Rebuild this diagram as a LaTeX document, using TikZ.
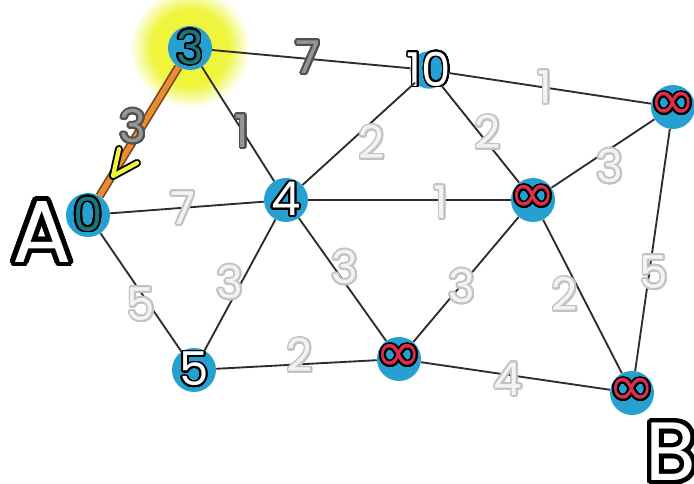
\documentclass[tikz,border=0pt]{standalone}
\usepackage{fontspec}
\usepackage{contour}
\newfontfamily\numfont{Poppins}
\newfontfamily\symfont{DejaVu Sans}
\definecolor{stationblue}{RGB}{38,160,208}
\definecolor{roadgray}{RGB}{45,45,45}
\definecolor{glowyellow}{RGB}{238,245,60}
\definecolor{pathorange}{RGB}{236,140,50}
\definecolor{pathrim}{RGB}{120,70,30}
\definecolor{tealfill}{RGB}{25,120,125}
\definecolor{infred}{RGB}{225,45,75}
\definecolor{darkfill}{RGB}{150,150,150}
\definecolor{darkrim}{RGB}{80,80,80}
\definecolor{lightfill}{RGB}{243,243,243}
\definecolor{lightrim}{RGB}{195,195,195}
\contournumber{32}
\newcommand{\ringtext}[4]{{\contourlength{#1}\contour{#2}{\textcolor{#3}{#4}}}}
\pgfdeclareradialshading{glow}{\pgfpoint{0bp}{0bp}}{color(0bp)=(glowyellow); color(16bp)=(glowyellow); color(25bp)=(white); color(50bp)=(white)}
\begin{document}
\begin{tikzpicture}[x=0.75pt, y=-0.75pt,
    station/.style={circle, fill=stationblue, minimum size=33pt, inner sep=0pt},
    road/.style={draw=roadgray, line width=1.4pt},
    digits/.style={inner sep=0pt, font=\numfont\fontsize{35}{35}\selectfont},
    infin/.style={inner sep=0pt, font=\symfont\fontsize{42}{42}\selectfont},
    weight/.style={inner sep=0pt, font=\numfont\fontsize{34}{34}\selectfont}]
    \useasboundingbox (0,0) rectangle (694,484);

    % glow round the vertex being expanded
    \shade[shading=glow] (190,48) circle (60);

    % vertices
    \node[station, label={[digits]center:\ringtext{1.3pt}{black}{tealfill}{0}}] (n0) at (88,215) {};
    \node[station, label={[digits]center:\ringtext{1.3pt}{black}{tealfill}{3}}] (n3) at (190,48) {};
    \node[station, label={[digits]center:\ringtext{1.3pt}{black}{white}{4}}] (n4) at (286,200) {};
    \node[station, label={[digits]center:\ringtext{1.3pt}{black}{white}{5}}] (n5) at (194,370) {};
    \node[station, minimum size=28pt, label={[digits]center:\ringtext{1.3pt}{black}{white}{10}}] (n10) at (429,70) {};
    \node[station, label={[infin]center:\ringtext{1.3pt}{black}{infred}{∞}}] (nm) at (533,200) {};
    \node[station, label={[infin]center:\ringtext{1.3pt}{black}{infred}{∞}}] (nr) at (673,107) {};
    \node[station, label={[infin]center:\ringtext{1.3pt}{black}{infred}{∞}}] (nb) at (399,359) {};
    \node[station, label={[infin]center:\ringtext{1.3pt}{black}{infred}{∞}}] (nbr) at (632,393) {};

    % roads
    \draw[road] (n3) -- (n10);
    \draw[road] (n3) -- (n4);
    \draw[road] (n0) -- (n4);
    \draw[road] (n0) -- (n5);
    \draw[road] (n4) -- (n5);
    \draw[road] (n4) -- (n10);
    \draw[road] (n4) -- (nm);
    \draw[road] (n4) -- (nb);
    \draw[road] (n5) -- (nb);
    \draw[road] (n10) -- (nm);
    \draw[road] (n10) -- (nr);
    \draw[road] (nm) -- (nr);
    \draw[road] (nm) -- (nb);
    \draw[road] (nm) -- (nbr);
    \draw[road] (nb) -- (nbr);
    \draw[road] (nr) -- (nbr);

    % relaxed edge
    \draw[pathrim, line width=6.5pt] (n3) -- (n0);
    \draw[pathorange, line width=4pt] (n3) -- (n0);
    \draw[black, line width=6pt, line cap=round, line join=round] (119,149) -- (113,176) -- (137,163);
    \draw[glowyellow, line width=3.2pt, line cap=round, line join=round] (119,149) -- (113,176) -- (137,163);

    % weights
    \node[weight] (w30) at (133,127) {\ringtext{1.3pt}{darkrim}{darkfill}{3}};
    \node[weight] (w310) at (308,58) {\ringtext{1.3pt}{darkrim}{darkfill}{7}};
    \node[weight] (w34) at (242,132) {\ringtext{1.3pt}{darkrim}{darkfill}{1}};
    \node[weight] (w04) at (183,209) {\ringtext{1.3pt}{lightrim}{lightfill}{7}};
    \node[weight] (w05) at (141,305) {\ringtext{1.3pt}{lightrim}{lightfill}{5}};
    \node[weight] (w45) at (230,283) {\ringtext{1.3pt}{lightrim}{lightfill}{3}};
    \node[weight] (w410) at (372,143) {\ringtext{1.3pt}{lightrim}{lightfill}{2}};
    \node[weight] (w4m) at (441,203) {\ringtext{1.3pt}{lightrim}{lightfill}{1}};
    \node[weight] (w4b) at (345,268) {\ringtext{1.3pt}{lightrim}{lightfill}{3}};
    \node[weight] (w5b) at (300,356) {\ringtext{1.3pt}{lightrim}{lightfill}{2}};
    \node[weight] (w10m) at (488,133) {\ringtext{1.3pt}{lightrim}{lightfill}{2}};
    \node[weight] (w10r) at (545,88) {\ringtext{1.3pt}{lightrim}{lightfill}{1}};
    \node[weight] (wmr) at (610,167) {\ringtext{1.3pt}{lightrim}{lightfill}{3}};
    \node[weight] (wmb) at (462,287) {\ringtext{1.3pt}{lightrim}{lightfill}{3}};
    \node[weight] (wmbr) at (565,295) {\ringtext{1.3pt}{lightrim}{lightfill}{2}};
    \node[weight] (wbbr) at (508,380) {\ringtext{1.3pt}{lightrim}{lightfill}{4}};
    \node[weight] (wrbr) at (654,273) {\ringtext{1.3pt}{lightrim}{lightfill}{5}};

    % start and goal
    \node[inner sep=0pt, font=\numfont\fontsize{66}{66}\selectfont] (start) at (42,234) {\ringtext{3.6pt}{black}{white}{A}};
    \node[inner sep=0pt, font=\numfont\fontsize{62}{62}\selectfont] (goal) at (671,454) {\ringtext{3.4pt}{black}{white}{B}};
\end{tikzpicture}
\end{document}
